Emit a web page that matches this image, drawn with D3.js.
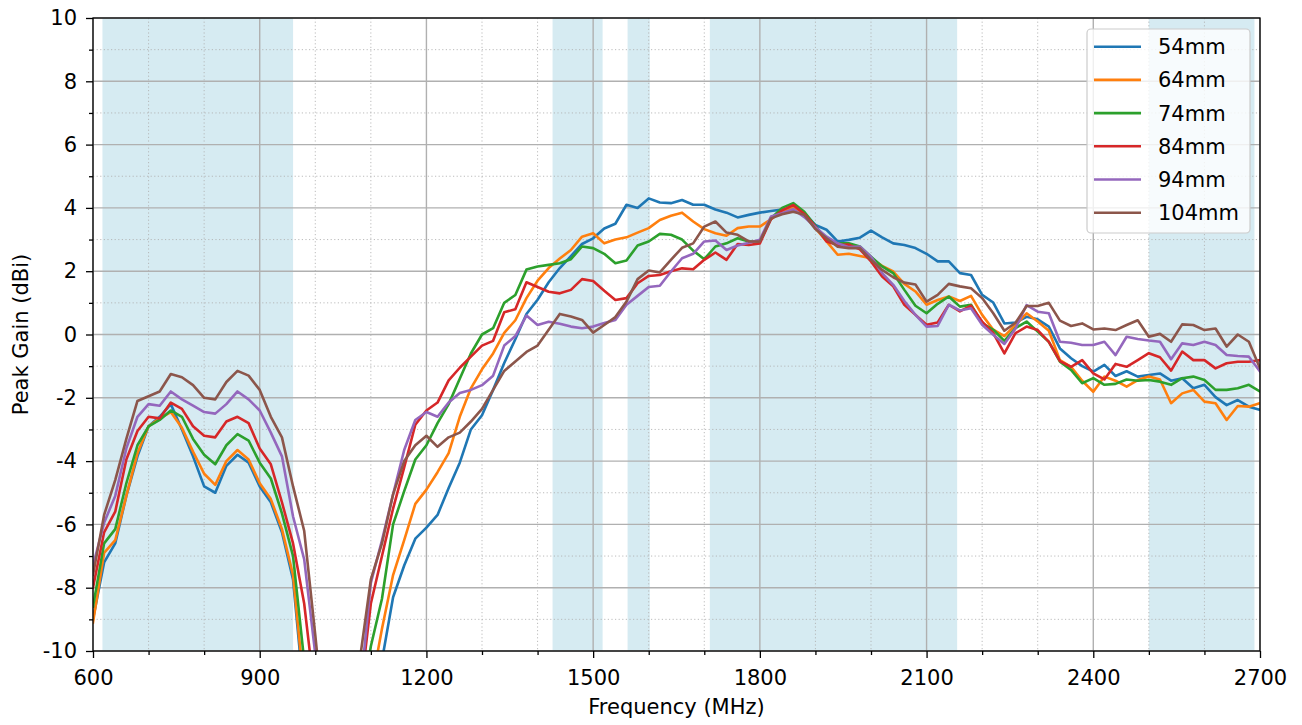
<!DOCTYPE html>
<html><head><meta charset="utf-8">
<script src="https://cdn.jsdelivr.net/npm/d3@7"></script>
<style>
body{margin:0;background:#fff}
svg{display:block}
text{font-family:"DejaVu Sans",sans-serif;fill:#000}
</style>
</head><body>
<svg id="c" width="1302" height="725"></svg>
<script>
// ---------- DATA ----------
const freqs = [600,620,640,660,680,700,720,740,760,780,800,820,840,860,880,900,920,940,960,980,
  1000,1020,1040,1060,1080,1100,1120,1140,1160,1180,1200,1220,1240,1260,1280,1300,1320,1340,1360,1380,
  1400,1420,1440,1460,1480,1500,1520,1540,1560,1580,1600,1620,1640,1660,1680,1700,1720,1740,1760,1780,
  1800,1820,1840,1860,1880,1900,1920,1940,1960,1980,2000,2020,2040,2060,2080,2100,2120,2140,2160,2180,
  2200,2220,2240,2260,2280,2300,2320,2340,2360,2380,2400,2420,2440,2460,2480,2500,2520,2540,2560,2580,
  2600,2620,2640,2660,2680,2700];

const gain54 = [-9.0,-7.2,-6.6,-5.1,-3.85,-2.9,-2.6,-2.2,-3.0,-3.85,-4.8,-5.0,-4.15,-3.8,-4.05,-4.8,-5.3,-6.25,-7.75,-11.5,-15,
  -16,-16,-16,-16,
  -13,-10.3,-8.3,-7.3,-6.45,-6.1,-5.7,-4.85,-4.05,-3.0,-2.55,-1.75,-0.9,-0.15,0.65,1.1,1.65,2.1,
  2.48,2.86,3.04,3.35,3.5,4.1,4.0,4.3,4.17,4.15,4.25,4.1,4.1,3.95,3.85,3.7,3.78,3.85,3.9,3.95,3.97,
  3.83,3.46,3.31,2.94,2.99,3.06,3.28,3.07,2.88,2.83,2.73,2.55,2.31,2.31,1.94,1.88,1.25,1.01,0.35,0.38,
  0.56,0.48,0.25,-0.44,-0.75,-1.0,-1.17,-0.96,-1.31,-1.16,-1.33,-1.28,-1.23,-1.46,-1.38,-1.7,-1.59,-1.98,-2.23,-2.07,-2.28,-2.38];

const gain64 = [-9.1,-6.9,-6.5,-5.1,-3.75,-2.9,-2.65,-2.45,-2.95,-3.7,-4.4,-4.75,-4.0,-3.65,-3.95,-4.7,-5.2,-6.15,-7.6,-11.2,-15,
  -16,-16,-16,-14,
  -11.2,-9.3,-7.6,-6.5,-5.35,-4.9,-4.35,-3.75,-2.6,-1.7,-1.1,-0.6,0.05,0.45,1.15,1.7,2.1,2.4,
  2.67,3.09,3.2,2.88,3.0,3.07,3.22,3.36,3.62,3.75,3.85,3.57,3.33,3.2,3.12,3.36,3.41,3.41,3.64,3.9,4.0,
  3.83,3.36,2.94,2.52,2.55,2.48,2.41,2.17,1.99,1.6,1.36,0.94,1.09,1.2,1.06,1.22,0.62,0.15,-0.05,0.3,
  0.67,0.41,0.12,-0.81,-1.02,-1.46,-1.81,-1.33,-1.46,-1.65,-1.44,-1.33,-1.42,-2.17,-1.86,-1.75,-2.12,-2.17,-2.7,-2.26,-2.28,-2.17];

const gain74 = [-8.6,-6.6,-6.15,-4.7,-3.5,-2.9,-2.7,-2.4,-2.6,-3.3,-3.8,-4.1,-3.5,-3.15,-3.35,-4.05,-4.55,-5.65,-7.0,-10.3,-14,
  -16,-16,-15,-12,
  -9.85,-8.35,-6.0,-4.95,-3.95,-3.5,-2.8,-2.2,-1.4,-0.6,0.0,0.2,1.0,1.25,2.05,2.15,2.2,2.25,
  2.38,2.78,2.73,2.55,2.25,2.34,2.81,2.94,3.18,3.15,3.0,2.65,2.38,2.78,2.88,3.04,2.94,2.94,3.67,4.0,4.15,
  3.88,3.43,2.99,2.88,2.88,2.78,2.46,2.15,1.94,1.41,0.91,0.67,0.97,1.2,0.88,0.94,0.36,0.15,-0.2,0.2,
  0.41,0.09,-0.23,-0.86,-1.12,-1.54,-1.38,-1.59,-1.56,-1.42,-1.46,-1.44,-1.49,-1.59,-1.38,-1.33,-1.44,-1.75,-1.75,-1.7,-1.59,-1.8];

const gain84 = [-8.0,-6.25,-5.6,-3.95,-3.05,-2.6,-2.65,-2.15,-2.35,-2.9,-3.2,-3.25,-2.75,-2.6,-2.8,-3.6,-4.1,-5.3,-6.6,-8.5,-11.5,
  -16,-16,-15,-11.5,
  -8.5,-7.0,-5.5,-4.2,-2.85,-2.4,-2.15,-1.45,-1.05,-0.7,-0.35,-0.2,0.7,0.8,1.65,1.5,1.35,1.3,
  1.41,1.75,1.69,1.38,1.09,1.15,1.62,1.85,1.88,2.0,2.09,2.06,2.36,2.59,2.36,2.86,2.83,2.88,3.64,3.92,4.09,
  3.81,3.41,2.94,2.83,2.84,2.69,2.31,1.83,1.52,0.94,0.62,0.31,0.38,0.94,0.73,0.91,0.41,0.04,-0.6,0.04,
  0.25,0.14,-0.23,-0.84,-1.02,-0.81,-1.23,-1.42,-0.93,-1.02,-0.81,-0.59,-0.72,-1.14,-0.54,-0.81,-0.81,-1.07,-0.91,-0.86,-0.86,-0.81];

const gain94 = [-7.3,-5.95,-5.1,-3.6,-2.6,-2.2,-2.25,-1.8,-2.05,-2.25,-2.45,-2.5,-2.2,-1.8,-2.05,-2.4,-3.1,-3.85,-5.75,-7.1,-10.1,
  -14,-16,-15,-11.4,
  -7.85,-6.5,-5.05,-3.65,-2.7,-2.45,-2.6,-2.15,-1.85,-1.75,-1.6,-1.3,-0.35,-0.05,0.6,0.3,0.4,0.34,
  0.25,0.2,0.25,0.36,0.46,0.94,1.22,1.5,1.54,1.99,2.41,2.55,2.94,2.97,2.67,2.81,2.9,2.99,3.73,3.83,3.96,
  3.71,3.39,3.09,2.88,2.76,2.78,2.46,1.94,1.57,1.06,0.62,0.25,0.27,0.94,0.76,0.83,0.31,-0.01,-0.3,0.19,
  0.93,0.72,0.67,-0.23,-0.26,-0.33,-0.33,-0.23,-0.65,-0.07,-0.14,-0.19,-0.23,-0.78,-0.28,-0.33,-0.23,-0.33,-0.65,-0.68,-0.7,-1.17];

const gain104 = [-7.6,-5.7,-4.6,-3.3,-2.1,-1.95,-1.8,-1.25,-1.35,-1.6,-2.0,-2.05,-1.5,-1.15,-1.3,-1.75,-2.6,-3.25,-4.8,-6.2,-9.5,
  -13,-16,-14,-10.3,
  -7.74,-6.6,-5.05,-4.0,-3.5,-3.2,-3.55,-3.25,-3.1,-2.75,-2.35,-1.75,-1.15,-0.85,-0.55,-0.35,0.15,0.65,
  0.57,0.46,0.06,0.3,0.55,1.04,1.75,2.02,1.96,2.36,2.74,2.88,3.41,3.57,3.22,3.15,2.94,2.94,3.67,3.8,3.88,
  3.78,3.33,3.04,2.77,2.73,2.73,2.36,2.04,1.81,1.64,1.58,1.04,1.25,1.6,1.52,1.46,1.15,0.67,0.12,0.37,
  0.9,0.9,1.0,0.44,0.27,0.35,0.16,0.19,0.14,0.3,0.45,-0.07,0.02,-0.23,0.32,0.3,0.14,0.19,-0.38,0.0,-0.23,-1.07];

const seriesNames = ["54mm","64mm","74mm","84mm","94mm","104mm"];
const seriesValues = [gain54, gain64, gain74, gain84, gain94, gain104];
const seriesColors = ["#1f77b4","#ff7f0e","#2ca02c","#d62728","#9467bd","#8c564b"];

const bandStarts = [617, 1427, 1562, 1710, 2500];
const bandEnds   = [960, 1517, 1602, 2155, 2690];

const xTickValues = [600, 900, 1200, 1500, 1800, 2100, 2400, 2700];
const xMinorValues = [700,800,1000,1100,1300,1400,1600,1700,1900,2000,2200,2300,2500,2600];
const yTickValues = [-10, -8, -6, -4, -2, 0, 2, 4, 6, 8, 10];
const yMinorValues = [-9, -7, -5, -3, -1, 1, 3, 5, 7, 9];

const xLabel = "Frequency (MHz)";
const yLabel = "Peak Gain (dBi)";

// ---------- CHART ----------
const L = 93, R = 1260, T = 18, B = 651;
const FS = 21;
const svg = d3.select("#c");
const x = d3.scaleLinear().domain([600, 2700]).range([L, R]);
const y = d3.scaleLinear().domain([-10, 10]).range([B, T]);

svg.append("defs").append("clipPath").attr("id", "plotclip")
  .append("rect").attr("x", L).attr("y", T).attr("width", R - L).attr("height", B - T);

// bands
svg.append("g").selectAll("rect").data(bandStarts.map((s, i) => [s, bandEnds[i]])).join("rect")
  .attr("x", d => x(d[0])).attr("width", d => x(d[1]) - x(d[0]))
  .attr("y", T).attr("height", B - T)
  .attr("fill", "#add8e6").attr("fill-opacity", 0.5);

// minor grid
const grid = svg.append("g");
grid.selectAll("line.xm").data(xMinorValues).join("line").attr("class", "xm")
  .attr("x1", d => x(d)).attr("x2", d => x(d)).attr("y1", T).attr("y2", B)
  .attr("stroke", "#b0b0b0").attr("stroke-width", 1).attr("stroke-dasharray", "1.2,2.4").attr("stroke-opacity", 0.85);
grid.selectAll("line.ym").data(yMinorValues).join("line").attr("class", "ym")
  .attr("y1", d => y(d)).attr("y2", d => y(d)).attr("x1", L).attr("x2", R)
  .attr("stroke", "#b0b0b0").attr("stroke-width", 1).attr("stroke-dasharray", "1.2,2.4").attr("stroke-opacity", 0.85);
// major grid
grid.selectAll("line.xM").data(xTickValues).join("line").attr("class", "xM")
  .attr("x1", d => x(d)).attr("x2", d => x(d)).attr("y1", T).attr("y2", B)
  .attr("stroke", "#b0b0b0").attr("stroke-width", 1.4);
grid.selectAll("line.yM").data(yTickValues).join("line").attr("class", "yM")
  .attr("y1", d => y(d)).attr("y2", d => y(d)).attr("x1", L).attr("x2", R)
  .attr("stroke", "#b0b0b0").attr("stroke-width", 1.4);

// series lines
const line = d3.line().x((d, i) => x(freqs[i])).y(d => y(d));
svg.append("g").attr("clip-path", "url(#plotclip)")
  .selectAll("path").data(seriesValues).join("path")
  .attr("d", d => line(d))
  .attr("fill", "none")
  .attr("stroke", (d, i) => seriesColors[i])
  .attr("stroke-width", 2.6)
  .attr("stroke-linejoin", "round")
  .attr("stroke-linecap", "square");

// axes
const xAxis = svg.append("g").attr("transform", `translate(0,${B})`)
  .call(d3.axisBottom(x).tickValues(xTickValues).tickSize(7).tickPadding(12).tickFormat(d3.format("d")));
const xAxisMinor = svg.append("g").attr("transform", `translate(0,${B})`)
  .call(d3.axisBottom(x).tickValues(xMinorValues).tickSize(4).tickFormat(""));
const yAxis = svg.append("g").attr("transform", `translate(${L},0)`)
  .call(d3.axisLeft(y).tickValues(yTickValues).tickSize(7).tickPadding(9).tickFormat(d => d < 0 ? "-" + Math.abs(d) : String(d)));
const yAxisMinor = svg.append("g").attr("transform", `translate(${L},0)`)
  .call(d3.axisLeft(y).tickValues(yMinorValues).tickSize(4).tickFormat(""));
[xAxis, xAxisMinor, yAxis, yAxisMinor].forEach(g => {
  g.select(".domain").remove();
  g.selectAll(".tick line").attr("stroke", "#000").attr("stroke-width", 1.3);
  g.selectAll("text").attr("font-size", FS).attr("font-family", "DejaVu Sans, sans-serif").attr("fill", "#000");
});

// spines
svg.append("rect").attr("x", L).attr("y", T).attr("width", R - L).attr("height", B - T)
  .attr("fill", "none").attr("stroke", "#000").attr("stroke-width", 1.3);

// axis labels
svg.append("text").attr("x", (L + R) / 2).attr("y", 714).attr("text-anchor", "middle")
  .attr("font-size", FS).text(xLabel);
svg.append("text").attr("transform", `translate(28,${(T + B) / 2}) rotate(-90)`).attr("text-anchor", "middle")
  .attr("font-size", FS).text(yLabel);

// legend
const lg = svg.append("g");
lg.append("rect").attr("x", 1087).attr("y", 29).attr("width", 163).attr("height", 204).attr("rx", 4)
  .attr("fill", "#fff").attr("fill-opacity", 0.8).attr("stroke", "#cccccc").attr("stroke-width", 1.2);
const items = lg.selectAll("g.it").data(seriesNames).join("g").attr("class", "it")
  .attr("transform", (d, i) => `translate(0,${46.7 + i * 33.2})`);
items.append("line").attr("x1", 1094).attr("x2", 1141).attr("y1", 0).attr("y2", 0)
  .attr("stroke", (d, i) => seriesColors[i]).attr("stroke-width", 2.6);
items.append("text").attr("x", 1158).attr("y", 0).attr("dy", "0.36em").attr("font-size", FS).text(d => d);
</script>
</body></html>
